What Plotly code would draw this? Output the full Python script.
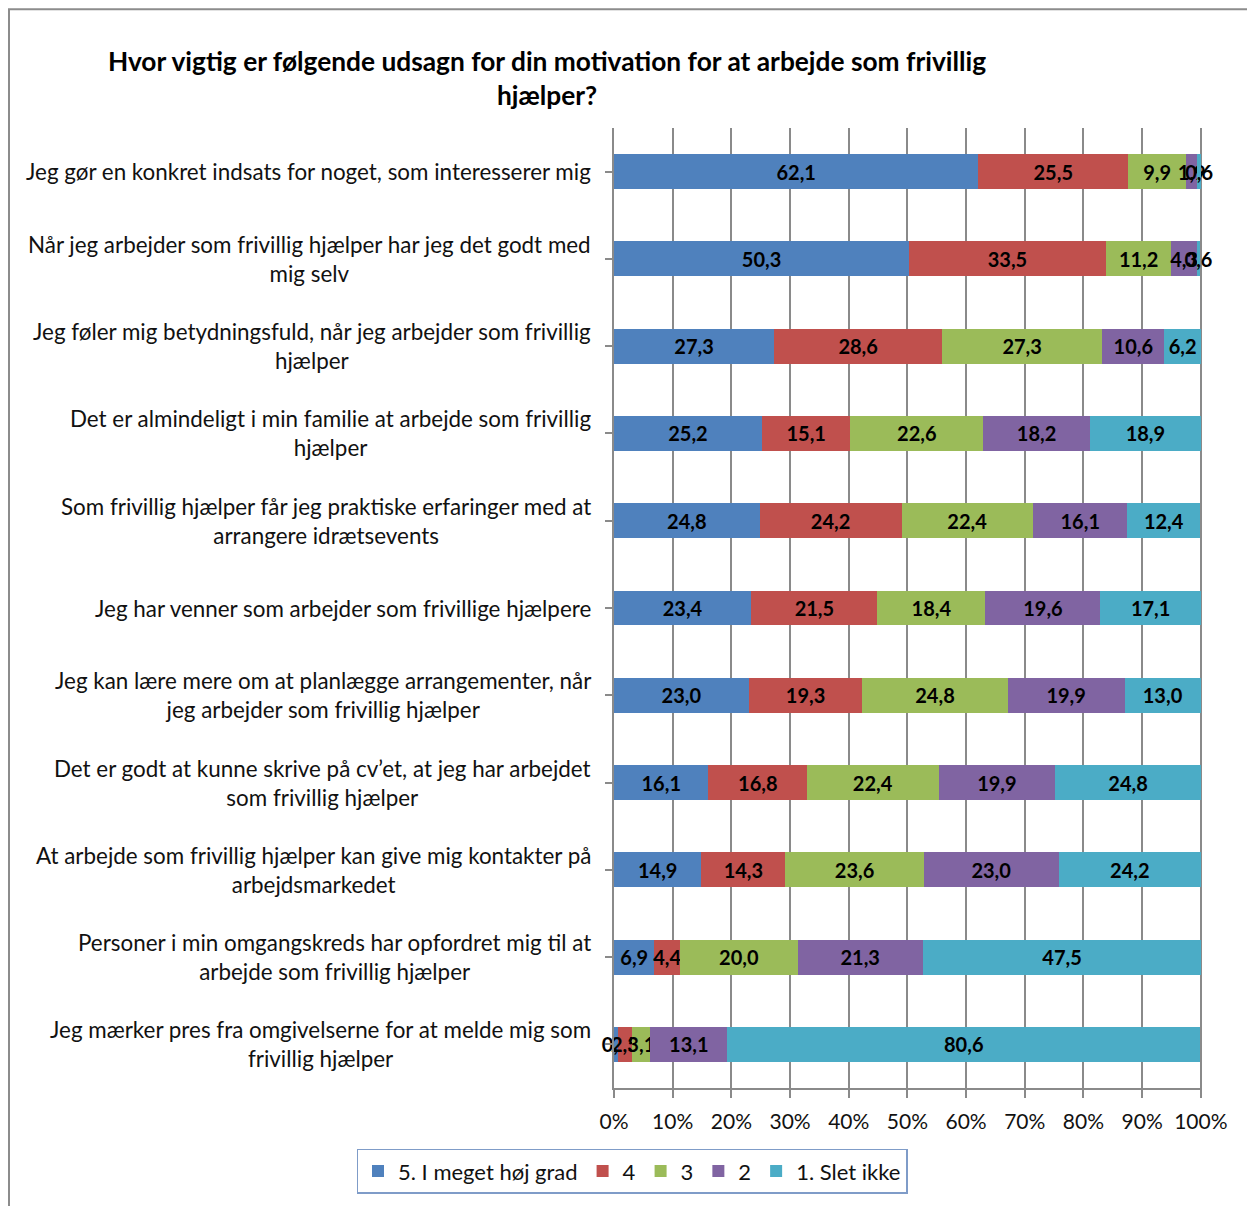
import plotly.graph_objects as go

CATEGORIES = [
    "Jeg gør en konkret indsats for noget, som interesserer mig",
    "Når jeg arbejder som frivillig hjælper har jeg det godt med<br>mig selv",
    "Jeg føler mig betydningsfuld, når jeg arbejder som frivillig<br>hjælper",
    "Det er almindeligt i min familie at arbejde som frivillig<br>hjælper",
    "Som frivillig hjælper får jeg praktiske erfaringer med at<br>arrangere idrætsevents",
    "Jeg har venner som arbejder som frivillige hjælpere",
    "Jeg kan lære mere om at planlægge arrangementer, når<br>jeg arbejder som frivillig hjælper",
    "Det er godt at kunne skrive på cv’et, at jeg har arbejdet<br>som frivillig hjælper",
    "At arbejde som frivillig hjælper kan give mig kontakter på<br>arbejdsmarkedet",
    "Personer i min omgangskreds har opfordret mig til at<br>arbejde som frivillig hjælper",
    "Jeg mærker pres fra omgivelserne for at melde mig som<br>frivillig hjælper",
]

SERIES_NAMES = ["5. I meget høj grad", "4", "3", "2", "1. Slet ikke"]
GRADE_5 = [62.1, 50.3, 27.3, 25.2, 24.8, 23.4, 23.0, 16.1, 14.9, 6.9, 0.6]
GRADE_4 = [25.5, 33.5, 28.6, 15.1, 24.2, 21.5, 19.3, 16.8, 14.3, 4.4, 2.5]
GRADE_3 = [9.9, 11.2, 27.3, 22.6, 22.4, 18.4, 24.8, 22.4, 23.6, 20.0, 3.1]
GRADE_2 = [1.9, 4.3, 10.6, 18.2, 16.1, 19.6, 19.9, 19.9, 23.0, 21.3, 13.1]
GRADE_1 = [0.6, 0.6, 6.2, 18.9, 12.4, 17.1, 13.0, 24.8, 24.2, 47.5, 80.6]

X_TICKS = [0, 10, 20, 30, 40, 50, 60, 70, 80, 90, 100]
X_TICK_TEXT = [f"{t}%" for t in X_TICKS]

COLORS = ["#4F81BD", "#C0504D", "#9BBB59", "#8064A2", "#4BACC6"]
FONT = "Lato"
GRID = "#8a8a8a"

# page has an 8px body margin, so the figure is a bit smaller than the window
W, H = 1247, 1198
L, R, T, B = 606, 53, 120, 115
PW, PH = W - L - R, H - T - B

fig = go.Figure()
for name, vals, color in zip(SERIES_NAMES, [GRADE_5, GRADE_4, GRADE_3, GRADE_2, GRADE_1], COLORS):
    fig.add_bar(
        y=list(range(len(CATEGORIES))),
        x=vals,
        name=name,
        orientation="h",
        marker_color=color,
        marker_line_width=0,
        texttemplate="%{x:.1f}",
        textposition="inside",
        insidetextanchor="middle",
        textangle=0,
        textfont=dict(family=FONT, size=20, color="black", weight="bold"),
        cliponaxis=False,
    )

# category labels: centred lines, block right aligned
for i, cat in enumerate(CATEGORIES):
    fig.add_annotation(
        x=-21 / PW, xref="paper", y=i, yref="y",
        text=cat, showarrow=False, xanchor="right", align="center",
        font=dict(family=FONT, size=22.4, color="#111111"),
    )

fig.update_layout(
    width=W,
    height=H,
    barmode="stack",
    bargap=0.6,
    separators=",.",
    plot_bgcolor="white",
    paper_bgcolor="white",
    font=dict(family=FONT, size=20, color="#111111"),
    margin=dict(l=L, r=R, t=T, b=B),
    title=dict(
        text="<b>Hvor vigtig er følgende udsagn for din motivation for at arbejde som frivillig<br>hjælper?</b>",
        x=539 / W, xanchor="center", y=1 - 63 / H, yanchor="top",
        font=dict(family=FONT, size=26.3, color="black"),
    ),
    uniformtext=dict(minsize=20, mode="show"),
    legend=dict(
        orientation="h",
        x=(624 - L) / PW, xanchor="center", y=-61 / PH, yanchor="top",
        bordercolor="#7f9cc8", borderwidth=1.5,
        font=dict(family=FONT, size=22),
        itemwidth=30,
        traceorder="normal",
    ),
    xaxis=dict(
        range=[0, 100.2], tickmode="array", tickvals=X_TICKS, ticktext=X_TICK_TEXT,
        showgrid=True, gridcolor=GRID, gridwidth=1.5,
        showline=True, linecolor=GRID, linewidth=1.5,
        ticks="outside", ticklen=8, tickcolor=GRID, tickwidth=1.5,
        ticklabelstandoff=6,
        tickfont=dict(size=21),
        zeroline=False, fixedrange=True,
    ),
    yaxis=dict(
        autorange="reversed", showticklabels=False,
        tickmode="array", tickvals=list(range(len(CATEGORIES))),
        tickson="boundaries", ticks="outside", ticklen=7, tickcolor=GRID, tickwidth=1.5,
        showline=True, linecolor=GRID, linewidth=1.5,
        showgrid=False, zeroline=False,
    ),
    shapes=[dict(
        type="rect", xref="paper", yref="paper",
        x0=(1 - L) / PW, x1=(W + 10 - L) / PW,
        y0=(T + PH - H - 10) / PH, y1=(T + PH - 1) / PH,
        line=dict(color="#8c8c8c", width=2), fillcolor="rgba(0,0,0,0)", layer="below",
    )],
)

fig.write_html("out.html")
